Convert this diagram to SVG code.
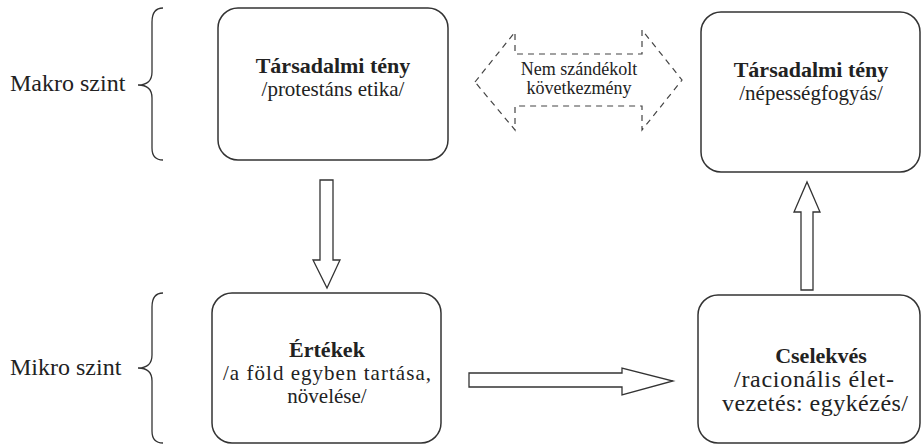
<svg xmlns="http://www.w3.org/2000/svg" width="924" height="445" viewBox="0 0 924 445">
<style>
.box{fill:#fff;stroke:#333;stroke-width:1.5}
.arr{fill:#fff;stroke:#333;stroke-width:1.3;stroke-linejoin:miter}
.dash{fill:#fff;stroke:#444;stroke-width:1.2;stroke-dasharray:6,5}
.brace{fill:none;stroke:#333;stroke-width:1.3}
text{font-family:"Liberation Serif","Times New Roman",serif;fill:#222;text-anchor:middle}
.t{font-weight:bold;font-size:22px}
.s{font-size:21px}
.lvl{font-size:24px;text-anchor:start}
.d{font-size:18px}
</style>
<rect width="924" height="445" fill="#fff"/>
<g id="level-labels">
<text class="lvl" x="10" y="91">Makro szint</text>
<path class="brace" d="M163,8 C156,8 152,12 152,22 L152,72 C152,80 148,85 138,85 C148,85 152,90 152,98 L152,148 C152,156 156,160 163,160"/>
<text class="lvl" x="10" y="375">Mikro szint</text>
<path class="brace" d="M163,293 C156,293 152,297 152,307 L152,355 C152,363 148,368 138,368 C148,368 152,373 152,381 L152,431 C152,439 156,443 163,443"/>
</g>
<g id="connectors">
<polygon class="arr" points="320,180 333,180 333,260 340,260 327,288 313,260 320,260"/>
<polygon class="arr" points="469,373 622,373 622,368 673,381 622,395 622,387 469,387"/>
<polygon class="arr" points="801,290 801,212 794,212 807,182 820,212 813,212 813,290"/>
<g id="unintended">
<polygon class="dash" points="475,82 515,32 515,54 642,54 642,30 682,80 642,130 642,106 515,106 515,130"/>
<text class="d" x="579" y="75">Nem szándékolt</text>
<text class="d" x="579" y="94">következmény</text>
</g>
</g>
<g id="node-protestans">
<rect class="box" x="218" y="8" width="230" height="152" rx="20"/>
<text class="t" x="333" y="73">Társadalmi tény</text>
<text class="s" x="333" y="96">/protestáns etika/</text>
</g>
<g id="node-nepesseg">
<rect class="box" x="701" y="12" width="219" height="160" rx="20"/>
<text class="t" x="811" y="77">Társadalmi tény</text>
<text class="s" x="811" y="100">/népességfogyás/</text>
</g>
<g id="node-ertekek">
<rect class="box" x="212" y="293" width="229" height="150" rx="20"/>
<text class="t" x="327" y="357">Értékek</text>
<text class="s" x="327" y="380" textLength="208" lengthAdjust="spacing">/a föld egyben tartása,</text>
<text class="s" x="327" y="403">növelése/</text>
</g>
<g id="node-cselekves">
<rect class="box" x="698" y="295" width="222" height="148" rx="20"/>
<text class="t" x="821" y="363">Cselekvés</text>
<text class="s" x="814" y="387" style="font-size:24px" textLength="160" lengthAdjust="spacing">/racionális élet-</text>
<text class="s" x="815" y="411" style="font-size:24px" textLength="186" lengthAdjust="spacing">vezetés: egykézés/</text>
</g>
</svg>
